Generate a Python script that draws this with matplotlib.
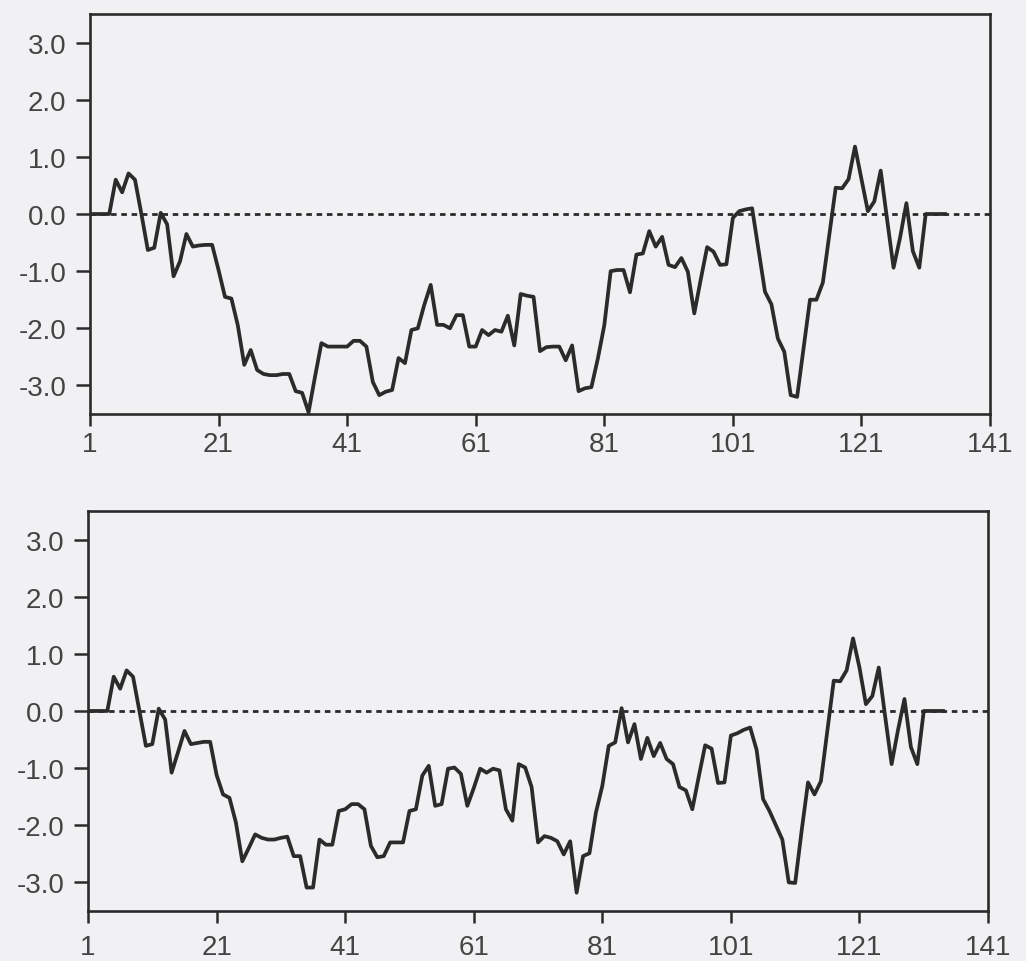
import numpy as np
import matplotlib
matplotlib.use("Agg")
import matplotlib.pyplot as plt

plt.rcParams['font.family'] = ['Liberation Sans', 'DejaVu Sans']
plt.rcParams['axes.unicode_minus'] = False

# residue positions
residues = list(range(1, 135))

# top profile
top_values = [
    0.0, 0.0, 0.0, 0.0, 0.60, 0.38, 0.71, 0.60, 0.0, -0.63,
    -0.59, 0.02, -0.18, -1.09, -0.83, -0.35, -0.57, -0.55, -0.54, -0.54,
    -0.98, -1.45, -1.48, -1.95, -2.64, -2.38, -2.73, -2.80, -2.82, -2.82,
    -2.80, -2.80, -3.10, -3.13, -3.47, -2.85, -2.26, -2.32, -2.32, -2.32,
    -2.32, -2.22, -2.22, -2.32, -2.94, -3.17, -3.11, -3.08, -2.52, -2.61,
    -2.03, -2.00, -1.59, -1.24, -1.94, -1.94, -2.00, -1.77, -1.77, -2.32,
    -2.32, -2.03, -2.12, -2.03, -2.06, -1.78, -2.30, -1.40, -1.43, -1.45,
    -2.40, -2.33, -2.32, -2.32, -2.56, -2.30, -3.10, -3.05, -3.03, -2.53,
    -1.95, -1.00, -0.98, -0.98, -1.37, -0.71, -0.69, -0.30, -0.57, -0.40,
    -0.89, -0.93, -0.77, -1.01, -1.74, -1.15, -0.58, -0.66, -0.89, -0.88,
    -0.07, 0.05, 0.08, 0.10, -0.63, -1.36, -1.58, -2.18, -2.41, -3.17,
    -3.20, -2.35, -1.50, -1.50, -1.20, -0.37, 0.46, 0.45, 0.61, 1.18,
    0.61, 0.05, 0.22, 0.76, -0.10, -0.94, -0.42, 0.19, -0.65, -0.94,
    0.0, 0.0, 0.0, 0.0,
]

# bottom profile
bottom_values = [
    0.0, 0.0, 0.0, 0.0, 0.60, 0.39, 0.71, 0.60, 0.0, -0.61,
    -0.58, 0.04, -0.15, -1.08, -0.72, -0.35, -0.58, -0.56, -0.54, -0.54,
    -1.12, -1.46, -1.52, -1.95, -2.63, -2.40, -2.16, -2.22, -2.25, -2.25,
    -2.22, -2.20, -2.54, -2.54, -3.09, -3.09, -2.25, -2.34, -2.34, -1.75,
    -1.72, -1.63, -1.63, -1.72, -2.36, -2.56, -2.54, -2.30, -2.30, -2.30,
    -1.75, -1.72, -1.13, -0.96, -1.66, -1.63, -1.01, -0.99, -1.10, -1.66,
    -1.35, -1.01, -1.08, -1.01, -1.04, -1.72, -1.92, -0.93, -0.99, -1.33,
    -2.30, -2.19, -2.22, -2.28, -2.51, -2.28, -3.18, -2.54, -2.49, -1.78,
    -1.31, -0.61, -0.55, 0.05, -0.55, -0.23, -0.84, -0.47, -0.79, -0.56,
    -0.84, -0.93, -1.33, -1.39, -1.72, -1.15, -0.60, -0.66, -1.26, -1.25,
    -0.43, -0.39, -0.33, -0.29, -0.68, -1.54, -1.75, -2.00, -2.25, -3.00,
    -3.01, -2.10, -1.25, -1.46, -1.23, -0.35, 0.53, 0.52, 0.71, 1.27,
    0.76, 0.12, 0.26, 0.76, -0.10, -0.93, -0.33, 0.21, -0.63, -0.93,
    0.0, 0.0, 0.0, 0.0,
]

x_ticks = [1, 21, 41, 61, 81, 101, 121, 141]
x_tick_labels = ["1", "21", "41", "61", "81", "101", "121", "141"]
y_ticks = [-3.0, -2.0, -1.0, 0.0, 1.0, 2.0, 3.0]
y_tick_labels = ["-3.0", "-2.0", "-1.0", "0.0", "1.0", "2.0", "3.0"]

bg = '#f1f1f3'
ink = '#2b2b2b'
txt = '#444444'

fig = plt.figure(figsize=(10.26, 9.62), dpi=100, facecolor=bg)
ax_top = fig.add_axes([0.0877, 0.5686, 0.8772, 0.4158])
ax_bot = fig.add_axes([0.0858, 0.0520, 0.8772, 0.4158])

for ax, vals, xpad in ((ax_top, top_values, 4), (ax_bot, bottom_values, 8)):
    ax.set_facecolor(bg)
    ax.axhline(0.0, color=ink, lw=2.0, ls=(0, (2.0, 1.7)), zorder=1)
    ax.plot(residues, vals, color=ink, lw=2.7, solid_joinstyle='round', zorder=2)
    ax.set_xlim(1, 141)
    ax.set_ylim(-3.5, 3.5)
    ax.set_xticks(x_ticks)
    ax.set_xticklabels(x_tick_labels)
    ax.set_yticks(y_ticks)
    ax.set_yticklabels(y_tick_labels)
    ax.tick_params(axis='y', direction='out', length=10, width=1.8, color=ink,
                   labelsize=20, labelcolor=txt, pad=7)
    ax.tick_params(axis='x', direction='out', length=8.5, width=1.8, color=ink,
                   labelsize=20, labelcolor=txt, pad=xpad)
    for s in ax.spines.values():
        s.set_color(ink)
        s.set_linewidth(1.9)

fig.savefig('out.png', dpi=100, facecolor=bg)
